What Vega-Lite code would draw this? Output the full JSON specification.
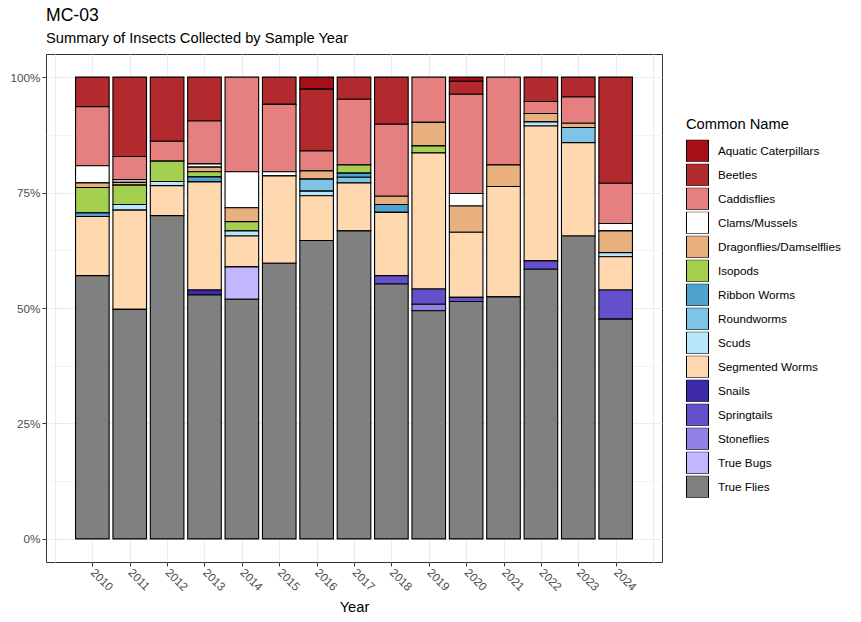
{
  "$schema": "https://vega.github.io/schema/vega-lite/v6.json",
  "width": 616,
  "height": 508,
  "autosize": {"type": "none"},
  "padding": {"left": 46, "top": 54, "right": 199, "bottom": 60},
  "background": "white",
  "title": {
    "text": "MC-03",
    "subtitle": "Summary of Insects Collected by Sample Year",
    "anchor": "start",
    "frame": "group",
    "font": "Liberation Sans",
    "fontSize": 17.6,
    "fontWeight": "normal",
    "color": "#000000",
    "subtitleFont": "Liberation Sans",
    "subtitleFontSize": 14.7,
    "subtitleColor": "#000000",
    "subtitlePadding": 7,
    "offset": 8
  },
  "config": {
    "view": {"stroke": "#333333", "strokeWidth": 1},
    "font": "Liberation Sans"
  },
  "data": {
    "values": [
      {"year": 2010, "name": "Beetles", "value": 6.4},
      {"year": 2010, "name": "Caddisflies", "value": 12.8},
      {"year": 2010, "name": "Clams/Mussels", "value": 3.7},
      {"year": 2010, "name": "Dragonflies/Damselflies", "value": 1.0},
      {"year": 2010, "name": "Isopods", "value": 5.5},
      {"year": 2010, "name": "Ribbon Worms", "value": 0.8},
      {"year": 2010, "name": "Segmented Worms", "value": 12.8},
      {"year": 2010, "name": "True Flies", "value": 57.0},

      {"year": 2011, "name": "Beetles", "value": 17.2},
      {"year": 2011, "name": "Caddisflies", "value": 5.0},
      {"year": 2011, "name": "Clams/Mussels", "value": 0.6},
      {"year": 2011, "name": "Dragonflies/Damselflies", "value": 0.6},
      {"year": 2011, "name": "Isopods", "value": 4.2},
      {"year": 2011, "name": "Scuds", "value": 1.2},
      {"year": 2011, "name": "Segmented Worms", "value": 21.5},
      {"year": 2011, "name": "True Flies", "value": 49.7},

      {"year": 2012, "name": "Beetles", "value": 13.9},
      {"year": 2012, "name": "Caddisflies", "value": 4.3},
      {"year": 2012, "name": "Isopods", "value": 4.4},
      {"year": 2012, "name": "Scuds", "value": 0.9},
      {"year": 2012, "name": "Segmented Worms", "value": 6.5},
      {"year": 2012, "name": "True Flies", "value": 70.0},

      {"year": 2013, "name": "Beetles", "value": 9.5},
      {"year": 2013, "name": "Caddisflies", "value": 9.3},
      {"year": 2013, "name": "Clams/Mussels", "value": 0.7},
      {"year": 2013, "name": "Dragonflies/Damselflies", "value": 1.0},
      {"year": 2013, "name": "Isopods", "value": 1.1},
      {"year": 2013, "name": "Ribbon Worms", "value": 1.1},
      {"year": 2013, "name": "Segmented Worms", "value": 23.4},
      {"year": 2013, "name": "Snails", "value": 1.1},
      {"year": 2013, "name": "True Flies", "value": 52.8},

      {"year": 2014, "name": "Caddisflies", "value": 20.5},
      {"year": 2014, "name": "Clams/Mussels", "value": 7.8},
      {"year": 2014, "name": "Dragonflies/Damselflies", "value": 3.0},
      {"year": 2014, "name": "Isopods", "value": 2.0},
      {"year": 2014, "name": "Scuds", "value": 1.1},
      {"year": 2014, "name": "Segmented Worms", "value": 6.7},
      {"year": 2014, "name": "True Bugs", "value": 7.0},
      {"year": 2014, "name": "True Flies", "value": 51.9},

      {"year": 2015, "name": "Beetles", "value": 5.9},
      {"year": 2015, "name": "Caddisflies", "value": 14.6},
      {"year": 2015, "name": "Clams/Mussels", "value": 0.9},
      {"year": 2015, "name": "Segmented Worms", "value": 18.9},
      {"year": 2015, "name": "True Flies", "value": 59.7},

      {"year": 2016, "name": "Aquatic Caterpillars", "value": 2.6},
      {"year": 2016, "name": "Beetles", "value": 13.4},
      {"year": 2016, "name": "Caddisflies", "value": 4.3},
      {"year": 2016, "name": "Dragonflies/Damselflies", "value": 1.8},
      {"year": 2016, "name": "Roundworms", "value": 2.6},
      {"year": 2016, "name": "Scuds", "value": 1.0},
      {"year": 2016, "name": "Segmented Worms", "value": 9.7},
      {"year": 2016, "name": "True Flies", "value": 64.6},

      {"year": 2017, "name": "Beetles", "value": 4.8},
      {"year": 2017, "name": "Caddisflies", "value": 14.2},
      {"year": 2017, "name": "Isopods", "value": 1.8},
      {"year": 2017, "name": "Ribbon Worms", "value": 0.9},
      {"year": 2017, "name": "Roundworms", "value": 1.2},
      {"year": 2017, "name": "Segmented Worms", "value": 10.4},
      {"year": 2017, "name": "True Flies", "value": 66.7},

      {"year": 2018, "name": "Beetles", "value": 10.2},
      {"year": 2018, "name": "Caddisflies", "value": 15.6},
      {"year": 2018, "name": "Dragonflies/Damselflies", "value": 1.8},
      {"year": 2018, "name": "Ribbon Worms", "value": 1.7},
      {"year": 2018, "name": "Segmented Worms", "value": 13.7},
      {"year": 2018, "name": "Springtails", "value": 1.8},
      {"year": 2018, "name": "True Flies", "value": 55.2},

      {"year": 2019, "name": "Caddisflies", "value": 9.8},
      {"year": 2019, "name": "Dragonflies/Damselflies", "value": 5.1},
      {"year": 2019, "name": "Isopods", "value": 1.5},
      {"year": 2019, "name": "Segmented Worms", "value": 29.5},
      {"year": 2019, "name": "Springtails", "value": 3.3},
      {"year": 2019, "name": "Stoneflies", "value": 1.4},
      {"year": 2019, "name": "True Flies", "value": 49.4},

      {"year": 2020, "name": "Aquatic Caterpillars", "value": 0.9},
      {"year": 2020, "name": "Beetles", "value": 2.8},
      {"year": 2020, "name": "Caddisflies", "value": 21.5},
      {"year": 2020, "name": "Clams/Mussels", "value": 2.7},
      {"year": 2020, "name": "Dragonflies/Damselflies", "value": 5.7},
      {"year": 2020, "name": "Segmented Worms", "value": 14.1},
      {"year": 2020, "name": "Springtails", "value": 0.9},
      {"year": 2020, "name": "True Flies", "value": 51.4},

      {"year": 2021, "name": "Caddisflies", "value": 19.0},
      {"year": 2021, "name": "Dragonflies/Damselflies", "value": 4.7},
      {"year": 2021, "name": "Segmented Worms", "value": 23.9},
      {"year": 2021, "name": "True Flies", "value": 52.4},

      {"year": 2022, "name": "Beetles", "value": 5.3},
      {"year": 2022, "name": "Caddisflies", "value": 2.6},
      {"year": 2022, "name": "Dragonflies/Damselflies", "value": 1.8},
      {"year": 2022, "name": "Scuds", "value": 0.9},
      {"year": 2022, "name": "Segmented Worms", "value": 29.2},
      {"year": 2022, "name": "Springtails", "value": 1.8},
      {"year": 2022, "name": "True Flies", "value": 58.4},

      {"year": 2023, "name": "Beetles", "value": 4.3},
      {"year": 2023, "name": "Caddisflies", "value": 5.7},
      {"year": 2023, "name": "Dragonflies/Damselflies", "value": 0.9},
      {"year": 2023, "name": "Roundworms", "value": 3.3},
      {"year": 2023, "name": "Segmented Worms", "value": 20.2},
      {"year": 2023, "name": "True Flies", "value": 65.6},

      {"year": 2024, "name": "Beetles", "value": 23.0},
      {"year": 2024, "name": "Caddisflies", "value": 8.7},
      {"year": 2024, "name": "Clams/Mussels", "value": 1.6},
      {"year": 2024, "name": "Dragonflies/Damselflies", "value": 4.7},
      {"year": 2024, "name": "Scuds", "value": 0.9},
      {"year": 2024, "name": "Segmented Worms", "value": 7.2},
      {"year": 2024, "name": "Springtails", "value": 6.3},
      {"year": 2024, "name": "True Flies", "value": 47.6}
    ]
  },
  "mark": {"type": "bar", "width": 33.6, "stroke": "#000000", "strokeWidth": 1.1},
  "encoding": {
    "x": {
      "field": "year",
      "type": "quantitative",
      "scale": {"domain": [2008.76, 2025.24], "nice": false, "zero": false, "padding": 0},
      "axis": {
        "values": [2009, 2009.5, 2010, 2010.5, 2011, 2011.5, 2012, 2012.5, 2013, 2013.5, 2014, 2014.5, 2015, 2015.5, 2016, 2016.5, 2017, 2017.5, 2018, 2018.5, 2019, 2019.5, 2020, 2020.5, 2021, 2021.5, 2022, 2022.5, 2023, 2023.5, 2024, 2024.5, 2025],
        "format": "d",
        "labelExpr": "(datum.value % 1 == 0 && datum.value >= 2010 && datum.value <= 2024) ? datum.label : ''",
        "labelOverlap": false,
        "labelFlush": false,
        "labelAngle": 45,
        "labelAlign": "left",
        "labelBaseline": "middle",
        "labelFontSize": 11.7,
        "labelColor": "#4D4D4D",
        "labelPadding": 4,
        "domain": false,
        "tickSize": 4,
        "tickColor": {"condition": {"test": "datum.value % 1 != 0 || datum.value < 2010 || datum.value > 2024", "value": "transparent"}, "value": "#333333"},
        "grid": true,
        "gridColor": "#EBEBEB",
        "gridWidth": {"condition": {"test": "datum.value % 1 != 0", "value": 0.6}, "value": 1.1},
        "title": "Year",
        "titleFontSize": 14.7,
        "titleFontWeight": "normal",
        "titleColor": "#000000",
        "titlePadding": 6
      }
    },
    "y": {
      "field": "value",
      "type": "quantitative",
      "stack": "normalize",
      "scale": {"domain": [-0.05, 1.05], "nice": false, "zero": false},
      "axis": {
        "values": [0, 0.125, 0.25, 0.375, 0.5, 0.625, 0.75, 0.875, 1],
        "format": ".0%",
        "labelExpr": "(datum.value * 4) % 1 == 0 ? datum.label : ''",
        "labelOverlap": false,
        "labelFlush": false,
        "labelFontSize": 11.7,
        "labelColor": "#4D4D4D",
        "labelPadding": 2,
        "domain": false,
        "tickSize": 4,
        "tickColor": {"condition": {"test": "(datum.value * 4) % 1 != 0", "value": "transparent"}, "value": "#333333"},
        "grid": true,
        "gridColor": "#EBEBEB",
        "gridWidth": {"condition": {"test": "(datum.value * 4) % 1 != 0", "value": 0.6}, "value": 1.1},
        "title": null
      }
    },
    "color": {
      "field": "name",
      "type": "nominal",
      "scale": {
        "domain": ["Aquatic Caterpillars", "Beetles", "Caddisflies", "Clams/Mussels", "Dragonflies/Damselflies", "Isopods", "Ribbon Worms", "Roundworms", "Scuds", "Segmented Worms", "Snails", "Springtails", "Stoneflies", "True Bugs", "True Flies"],
        "range": ["#A50F15", "#B2292E", "#E67F7F", "#FFFFFF", "#E8B07F", "#A5CF4F", "#4EA4CF", "#7DC4E6", "#B8E6FA", "#FFD8B0", "#3C2AA8", "#6550CC", "#9380E6", "#C2B6FF", "#808080"]
      },
      "legend": {
        "orient": "none",
        "legendX": 640,
        "legendY": 63,
        "title": "Common Name",
        "titleFontSize": 14.7,
        "titleFontWeight": "normal",
        "titleColor": "#000000",
        "titlePadding": 8,
        "labelFontSize": 11.7,
        "labelColor": "#000000",
        "labelOffset": 9,
        "symbolType": "square",
        "symbolSize": 484,
        "symbolStrokeColor": "#000000",
        "symbolStrokeWidth": 1,
        "symbolOpacity": 1,
        "clipHeight": 22,
        "rowPadding": 2
      }
    },
    "order": {"field": "name", "sort": "descending"}
  }
}
